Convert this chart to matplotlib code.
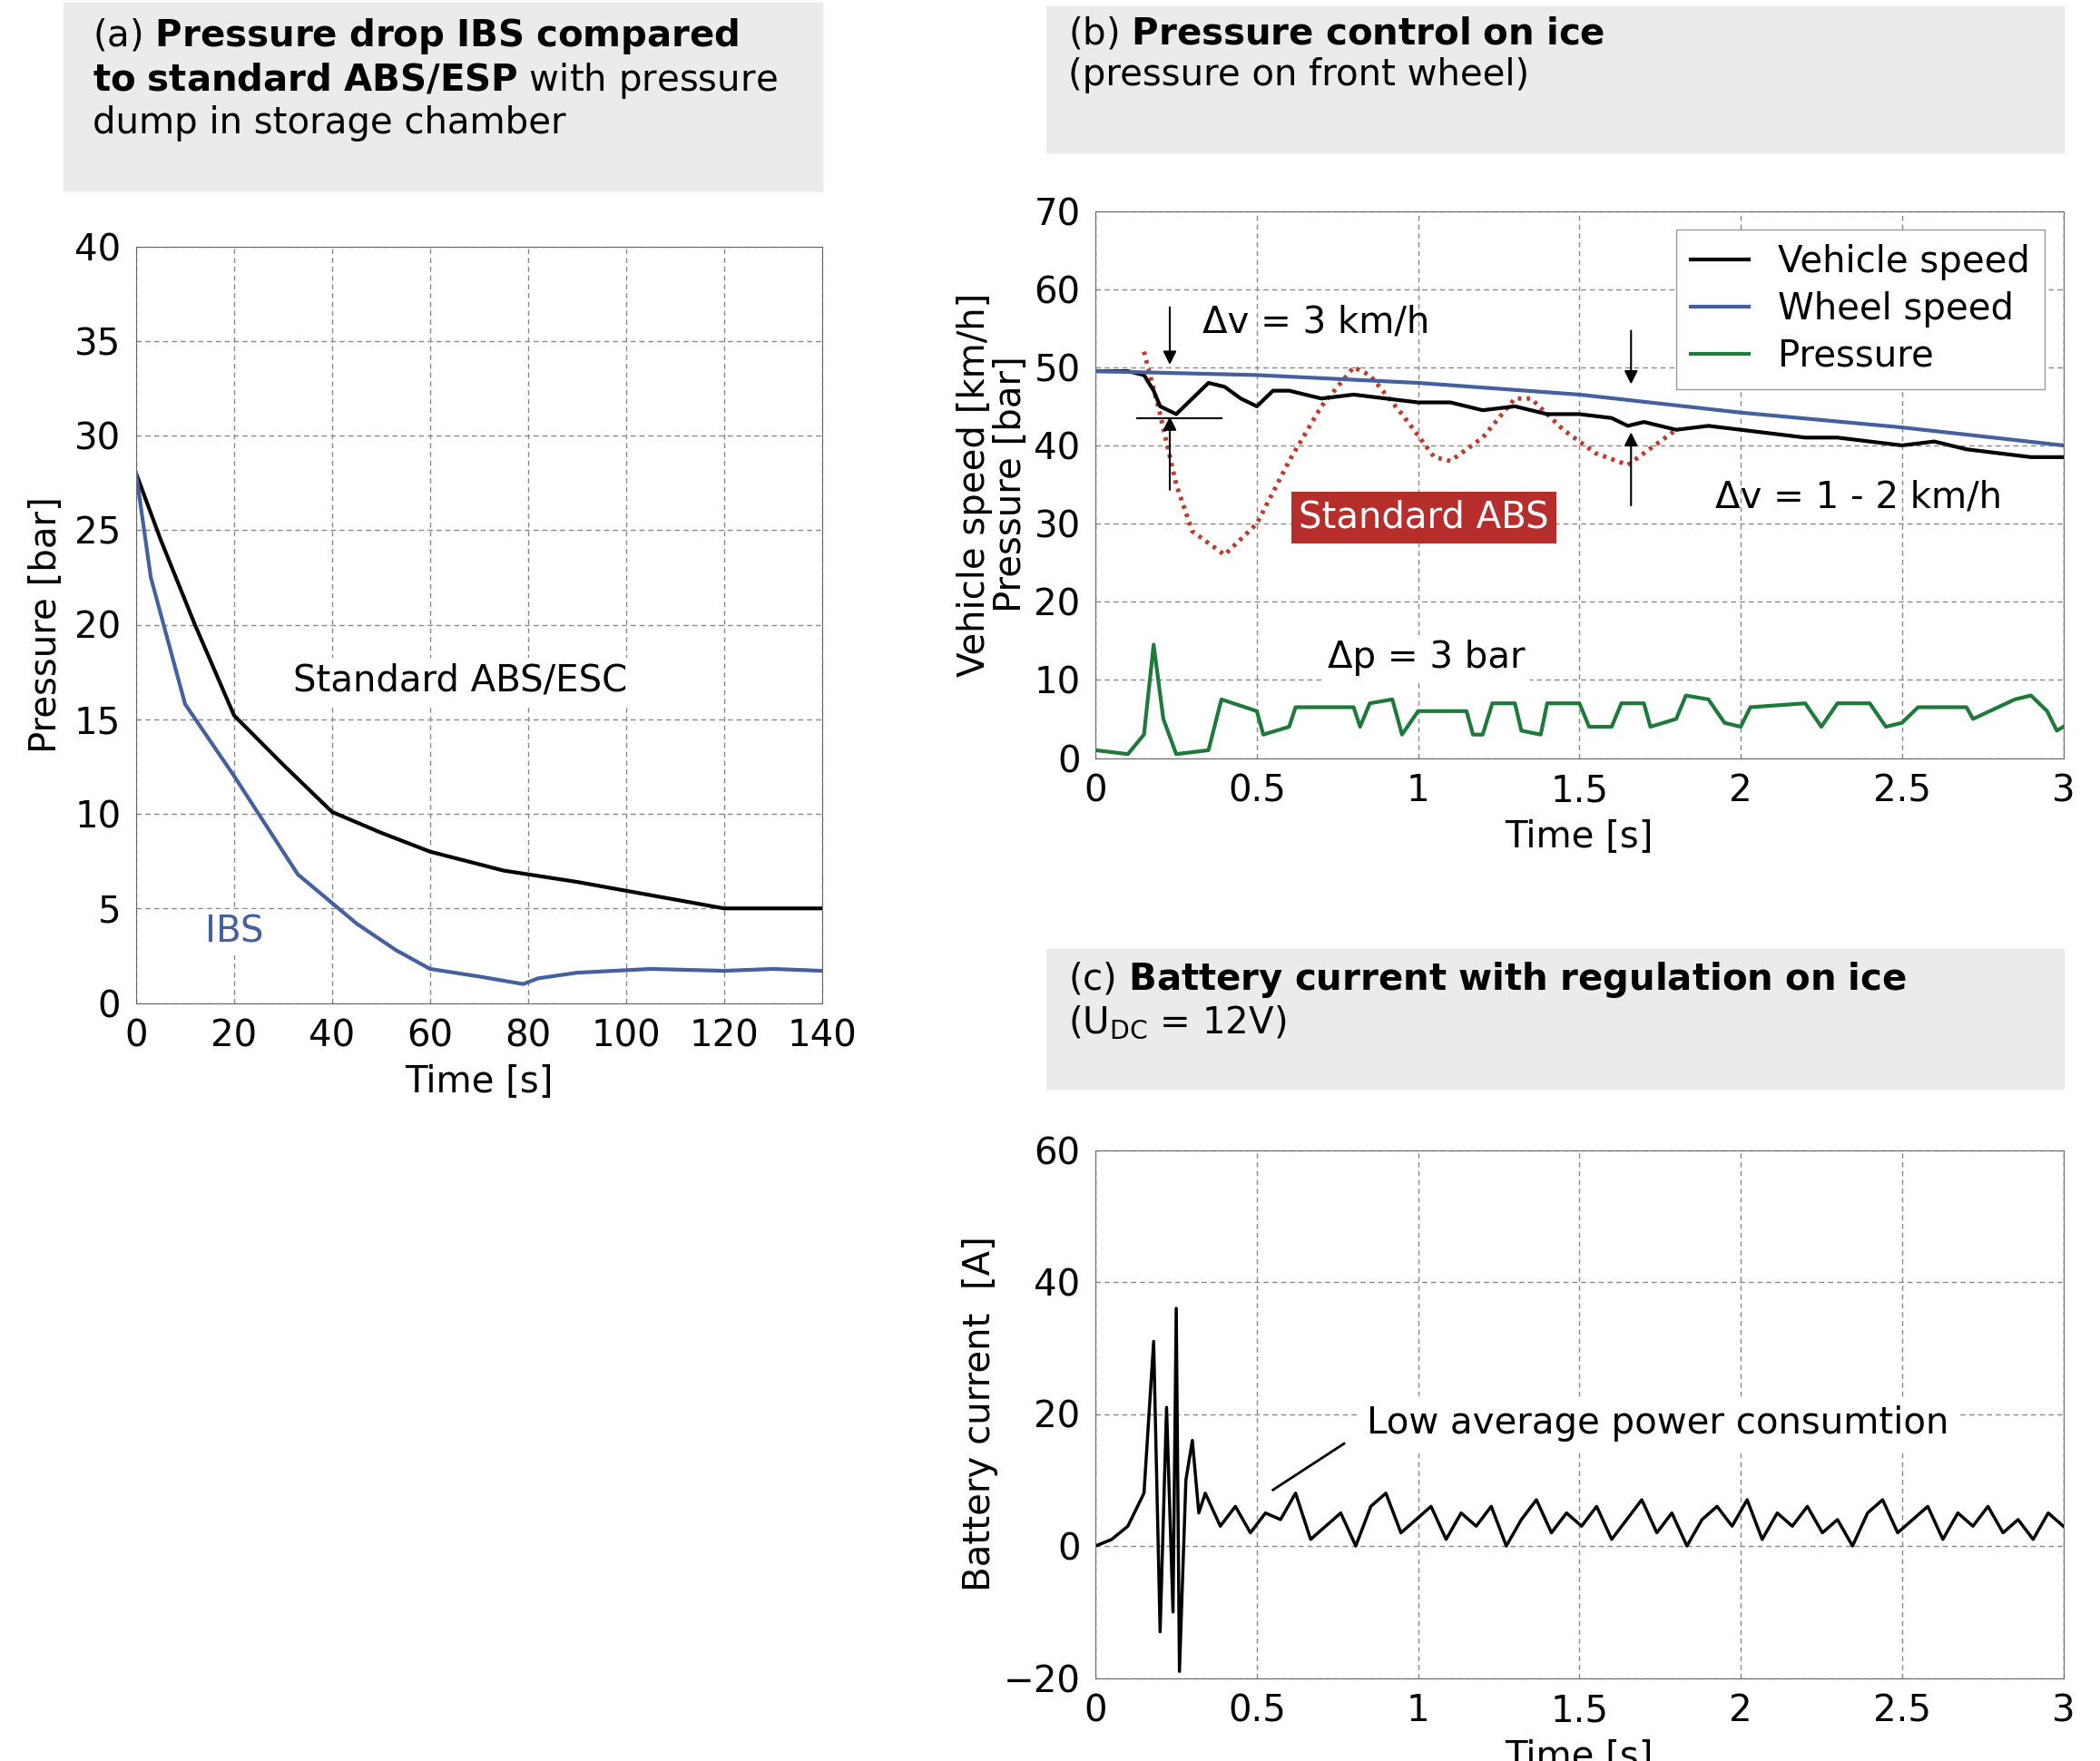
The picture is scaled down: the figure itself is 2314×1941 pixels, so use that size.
import matplotlib
matplotlib.use("Agg")
import matplotlib.pyplot as plt
import numpy as np
from matplotlib.patches import Rectangle

plt.rcParams["font.family"] = ["DejaVu Sans"]
FS = 29

# (a) pressure drop
a_t_std = [0, 5, 12, 20, 30, 40, 50, 60, 75, 90, 105, 120, 140]
a_p_std = [28, 24.5, 20, 15.2, 12.6, 10.1, 9, 8, 7, 6.4, 5.7, 5, 5]
a_t_ibs = [0, 3, 10, 20, 33, 45, 53, 60, 70, 79, 82, 90, 105, 120, 130, 140]
a_p_ibs = [28, 22.5, 15.8, 12, 6.8, 4.2, 2.8, 1.8, 1.4, 1.0, 1.3, 1.6, 1.8, 1.7, 1.8, 1.7]

# (b) pressure control on ice
b_t_wheel = [0, 0.5, 1.0, 1.5, 2.0, 2.5, 3.0]
b_v_wheel = [49.5, 49, 48, 46.5, 44.2, 42.3, 40]
b_t_veh = [0, 0.1, 0.15, 0.18, 0.2, 0.25, 0.3, 0.35, 0.4, 0.45, 0.5, 0.55, 0.6, 0.7,
           0.8, 0.9, 1.0, 1.1, 1.2, 1.3, 1.4, 1.5, 1.6, 1.65, 1.7, 1.8, 1.9, 2.0,
           2.1, 2.2, 2.3, 2.4, 2.5, 2.6, 2.7, 2.8, 2.9, 3.0]
b_v_veh = [49.5, 49.5, 49, 47, 45, 44, 46, 48, 47.5, 46, 45, 47, 47, 46,
           46.5, 46, 45.5, 45.5, 44.5, 45, 44, 44, 43.5, 42.5, 43, 42, 42.5, 42,
           41.5, 41, 41, 40.5, 40, 40.5, 39.5, 39, 38.5, 38.5]
b_t_abs = [0.15, 0.2, 0.25, 0.3, 0.4, 0.5, 0.6, 0.7, 0.8, 0.85, 0.95, 1.05, 1.1,
           1.2, 1.3, 1.35, 1.45, 1.55, 1.65, 1.7, 1.8]
b_v_abs = [52, 44, 35, 29, 26, 30, 38, 45, 50, 49, 44, 38.5, 38,
           41, 46, 46, 42, 39, 37.5, 39, 42]
b_t_p = [0, 0.1, 0.15, 0.18, 0.21, 0.25, 0.35, 0.39, 0.5, 0.52, 0.6, 0.62, 0.8, 0.82,
         0.85, 0.92, 0.95, 1.0, 1.15, 1.17, 1.2, 1.23, 1.3, 1.32, 1.38, 1.4, 1.5, 1.53,
         1.6, 1.63, 1.7, 1.72, 1.8, 1.83, 1.9, 1.95, 2.0, 2.03, 2.2, 2.25, 2.3, 2.4,
         2.45, 2.5, 2.55, 2.7, 2.72, 2.85, 2.9, 2.95, 2.98, 3.0]
b_p = [1, 0.5, 3, 14.5, 5, 0.5, 1, 7.5, 6, 3, 4, 6.5, 6.5, 4,
       7, 7.5, 3, 6, 6, 3, 3, 7, 7, 3.5, 3, 7, 7, 4,
       4, 7, 7, 4, 5, 8, 7.5, 4.5, 4, 6.5, 7, 4, 7, 7,
       4, 4.5, 6.5, 6.5, 5, 7.5, 8, 6, 3.5, 4]

# (c) battery current
c_t_spike = [0, 0.05, 0.1, 0.15, 0.18, 0.2, 0.22, 0.24, 0.25, 0.26, 0.28, 0.3, 0.32]
c_i_spike = [0, 1, 3, 8, 31, -13, 21, -10, 36, -19, 10, 16, 5]
c_i_noise = [8, 3, 6, 2, 5, 4, 8, 1, 3, 5, 0, 6, 8, 2, 4, 6, 1, 5, 3, 6,
             0, 4, 7, 2, 5, 3, 6, 1, 4, 7, 2, 5, 0, 4, 6, 3, 7, 1, 5, 3,
             6, 2, 4, 0, 5, 7, 2, 4, 6, 1, 5, 3, 6, 2, 4, 1, 5, 3]
c_t_noise = np.linspace(0.34, 3.0, len(c_i_noise))

fig = plt.figure(figsize=(23.14, 19.41), dpi=100)
W, H = 1543, 1294


def ax_box(x0, x1, y0, y1):
    return fig.add_axes([x0 / W, 1 - y1 / H, (x1 - x0) / W, (y1 - y0) / H])


def title_box(x0, x1, y0, y1):
    fig.patches.append(Rectangle((x0 / W, 1 - y1 / H), (x1 - x0) / W, (y1 - y0) / H,
                                 transform=fig.transFigure, color="#ebebeb", zorder=0))


def style(ax):
    ax.grid(True, ls=(0, (4, 3)), color="#888888", lw=1)
    ax.tick_params(labelsize=FS, length=0, pad=12)
    for s in ax.spines.values():
        s.set_color("#666666")


# panel (a)
title_box(47, 604, 2, 140)
fig.text(68 / W, 1 - 12 / H, "(a) $\\bf{Pressure\\ drop\\ IBS\\ compared}$\n"
         "$\\bf{to\\ standard\\ ABS/ESP}$ with pressure\ndump in storage chamber",
         fontsize=FS, va="top", linespacing=1.15)
ax = ax_box(100, 604, 181, 737)
ax.plot(a_t_std, a_p_std, color="black", lw=3)
ax.plot(a_t_ibs, a_p_ibs, color="#44609e", lw=3)
ax.set_xlim(0, 140)
ax.set_ylim(0, 40)
ax.set_xticks(range(0, 141, 20))
ax.set_yticks(range(0, 41, 5))
style(ax)
ax.set_xlabel("Time [s]", fontsize=FS, labelpad=8)
ax.set_ylabel("Pressure [bar]", fontsize=FS, labelpad=8)
ax.text(32, 16.5, "Standard ABS/ESC", fontsize=FS, bbox=dict(fc="white", ec="none"))
ax.text(14, 3.2, "IBS", fontsize=FS, color="#44609e", bbox=dict(fc="white", ec="none"))

# panel (b)
title_box(769, 1516, 5, 112)
fig.text(785 / W, 1 - 12 / H, "(b) $\\bf{Pressure\\ control\\ on\\ ice}$\n(pressure on front wheel)",
         fontsize=FS, va="top", linespacing=1.15)
ax = ax_box(805, 1516, 155, 557)
ax.plot(b_t_abs, b_v_abs, color="#c0392b", lw=3.5, ls=(0, (0.8, 1.2)))
ax.plot(b_t_veh, b_v_veh, color="black", lw=3, label="Vehicle speed")
ax.plot(b_t_wheel, b_v_wheel, color="#44609e", lw=3, label="Wheel speed")
ax.plot(b_t_p, b_p, color="#1e7a3a", lw=3, label="Pressure")
ax.set_xlim(0, 3)
ax.set_ylim(0, 70)
ax.set_xticks([0, 0.5, 1, 1.5, 2, 2.5, 3])
ax.set_xticklabels(["0", "0.5", "1", "1.5", "2", "2.5", "3"])
ax.set_yticks(range(0, 71, 10))
style(ax)
ax.set_xlabel("Time [s]", fontsize=FS, labelpad=8)
ax.set_ylabel("Vehicle speed [km/h]\nPressure [bar]", fontsize=FS, linespacing=1.0)
ax.legend(loc="upper right", fontsize=FS, handlelength=1.6, fancybox=False,
          framealpha=1, edgecolor="#999999", labelspacing=0.3)
kw = dict(arrowstyle="-|>", color="black", lw=1.5, mutation_scale=22)
ax.annotate("", xy=(0.23, 50), xytext=(0.23, 58), arrowprops=kw)
ax.annotate("", xy=(0.23, 44), xytext=(0.23, 34), arrowprops=kw)
ax.plot([0.13, 0.39], [43.5, 43.5], color="black", lw=1.5)
ax.annotate("", xy=(1.66, 47.5), xytext=(1.66, 55), arrowprops=kw)
ax.annotate("", xy=(1.66, 42), xytext=(1.66, 32), arrowprops=kw)
ax.text(0.33, 54.5, "Δv = 3 km/h", fontsize=FS)
ax.text(1.92, 32, "Δv = 1 - 2 km/h", fontsize=FS)
ax.text(0.72, 11.5, "Δp = 3 bar", fontsize=FS, bbox=dict(fc="white", ec="none"))
ax.text(0.63, 29.5, "Standard ABS", fontsize=FS, color="white",
        bbox=dict(fc="#b52e2b", ec="none", pad=6))

# panel (c)
title_box(769, 1516, 697, 800)
fig.text(785 / W, 1 - 705 / H, "(c) $\\bf{Battery\\ current\\ with\\ regulation\\ on\\ ice}$\n(U$_{\\rm DC}$ = 12V)",
         fontsize=FS, va="top", linespacing=1.15)
ax = ax_box(805, 1516, 845, 1233)
ax.plot(list(c_t_spike) + list(c_t_noise), list(c_i_spike) + list(c_i_noise), color="black", lw=2.5)
ax.set_xlim(0, 3)
ax.set_ylim(-20, 60)
ax.set_xticks([0, 0.5, 1, 1.5, 2, 2.5, 3])
ax.set_xticklabels(["0", "0.5", "1", "1.5", "2", "2.5", "3"])
ax.set_yticks(range(-20, 61, 20))
style(ax)
ax.set_xlabel("Time [s]", fontsize=FS, labelpad=8)
ax.set_ylabel("Battery current  [A]", fontsize=FS)
ax.text(0.84, 17, "Low average power consumtion", fontsize=FS,
        bbox=dict(fc="white", ec="none", pad=6))
ax.plot([0.55, 0.77], [8.5, 15.5], color="black", lw=2)

fig.savefig("out.png", dpi=100)
